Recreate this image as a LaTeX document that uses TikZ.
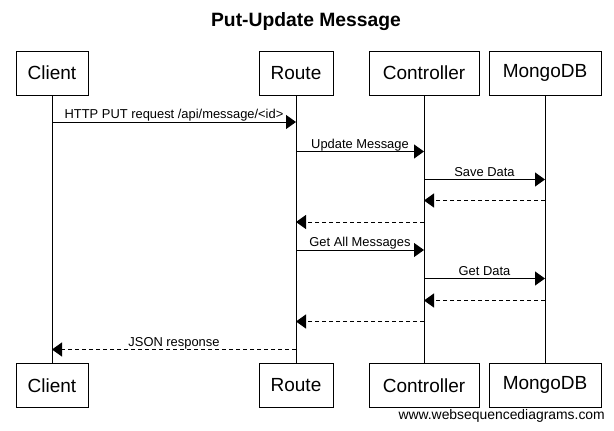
\documentclass[tikz,border=0pt]{standalone}
\usepackage{fontspec}
\setmainfont{Liberation Sans}
\usetikzlibrary{arrows.meta}
\tikzset{
  actor/.style={draw, line width=1pt, fill=white, minimum height=44pt, inner sep=0pt,
    font=\fontsize{19}{22}\selectfont},
  life/.style={line width=1pt},
  msg/.style={line width=1pt, -{Triangle[length=10pt,width=14pt]}},
  ret/.style={msg, dash pattern=on 4pt off 3pt},
  lbl/.style={pos=0.5, anchor=base, yshift=3.5pt, inner sep=0pt, font=\fontsize{12.9}{15}\selectfont}
}
\begin{document}
\begin{tikzpicture}[x=1pt,y=-1pt]
\useasboundingbox (0,0) rectangle (614,431);
\node[anchor=base, font=\bfseries\fontsize{19.3}{23}\selectfont] (title) at (306,27) {Put-Update Message};
% top actors
\node[actor, minimum width=72pt] (c1) at (52,73) {Client};
\node[actor, minimum width=74pt] (r1) at (296,73) {Route};
\node[actor, minimum width=110pt] (k1) at (424,73) {Controller};
\node[actor, minimum width=112pt] (m1) at (545,73) {MongoDB};
% bottom actors
\node[actor, minimum width=72pt] (c2) at (52,385.3) {Client};
\node[actor, minimum width=74pt] (r2) at (296,385.3) {Route};
\node[actor, minimum width=110pt] (k2) at (424,385.3) {Controller};
\node[actor, minimum width=112pt] (m2) at (545,385.3) {MongoDB};
% lifelines
\draw[life] (c1.south) -- (c2.north);
\draw[life] (r1.south) -- (r2.north);
\draw[life] (k1.south) -- (k2.north);
\draw[life] (m1.south) -- (m2.north);
% messages
\draw[msg] (c1 |- 0,122) -- (r1 |- 0,122) node[lbl] {HTTP PUT request /api/message/<id>};
\draw[msg] (r1 |- 0,151.5) -- (k1 |- 0,151.5) node[lbl] {Update Message};
\draw[msg] (k1 |- 0,179.5) -- (m1 |- 0,179.5) node[lbl] {Save Data};
\draw[ret] (m1 |- 0,200.5) -- (k1 |- 0,200.5);
\draw[ret] (k1 |- 0,222) -- (r1 |- 0,222);
\draw[msg] (r1 |- 0,250) -- (k1 |- 0,250) node[lbl] {Get All Messages};
\draw[msg] (k1 |- 0,278.5) -- (m1 |- 0,278.5) node[lbl] {Get Data};
\draw[ret] (m1 |- 0,300.5) -- (k1 |- 0,300.5);
\draw[ret] (k1 |- 0,321.5) -- (r1 |- 0,321.5);
\draw[ret] (r1 |- 0,349.5) -- (c1 |- 0,349.5) node[lbl] {JSON response};
% footer
\node[anchor=base east, inner sep=0pt, font=\fontsize{13.9}{16}\selectfont] (web) at (605,419) {www.websequencediagrams.com};
\end{tikzpicture}
\end{document}
